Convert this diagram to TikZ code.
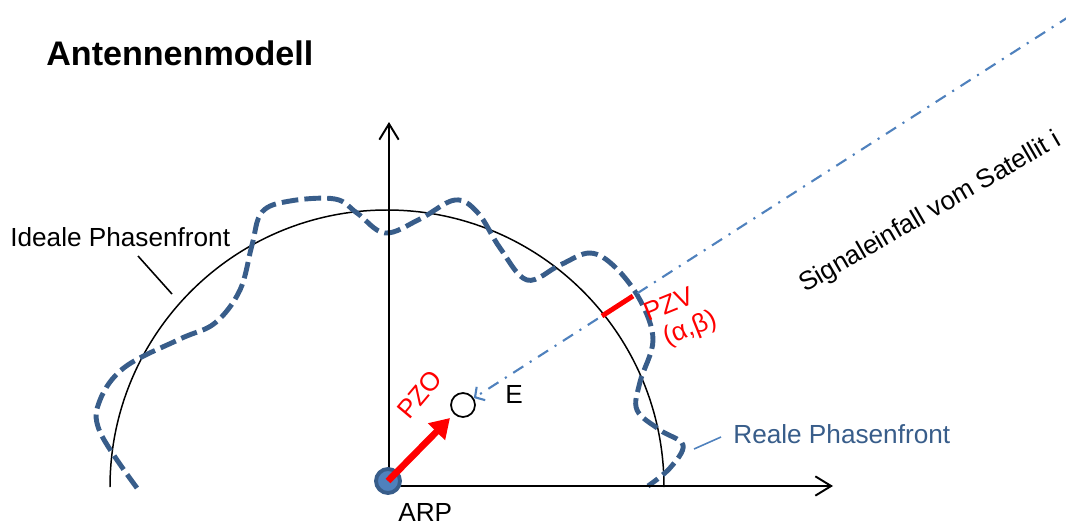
\documentclass[tikz,border=0pt]{standalone}
\usepackage{fontspec}
\setmainfont{Liberation Sans}
\usetikzlibrary{arrows.meta}
\definecolor{frontblue}{RGB}{56,93,138}
\definecolor{sigblue}{RGB}{79,129,189}
\definecolor{pzred}{RGB}{255,0,0}

\begin{document}
\begin{tikzpicture}[
    x=0.02cm, y=-0.02cm,
    axis/.style={line width=1.1pt, -{Straight Barb[length=9pt,width=11pt]}},
    ideal/.style={line width=0.85pt},
    real/.style={line width=2.8pt, frontblue, dash pattern=on 9.5pt off 3.5pt},
    signal/.style={line width=1.2pt, sigblue, dash pattern=on 6.8pt off 4.4pt on 1.2pt off 4.4pt, -{Straight Barb[length=4pt,width=9pt]}},
    pzo/.style={line width=3.8pt, pzred, -{Triangle[length=11pt,width=13pt]}},
    pzv/.style={line width=2.8pt, pzred},
    leader/.style={line width=0.9pt},
    lbl/.style={font=\fontsize{14.9}{17}\selectfont, inner sep=0pt, anchor=base west},
    ttl/.style={font=\fontsize{19.4}{23}\selectfont\bfseries, inner sep=0pt, anchor=base west}
]
\useasboundingbox (0,0) rectangle (1066,524);

% --- Phasenfronten ---
\draw[ideal] (110,487) arc[start angle=180, end angle=360, radius=277];
\draw[real] plot[smooth, tension=0.6] coordinates {
    (137,488) (100,432) (100,400) (125,367) (180,339) (215,323) (240,290)
    (252,245) (262,212) (290,201) (335,199) (357,213) (385,233) (420,219)
    (455,200) (478,213) (500,248) (527,280) (560,265) (590,253) (615,267)
    (640,300) (653,340) (640,382) (637,410) (660,430) (683,445) (670,468)
    (648,486)};

% --- Achsen ---
\coordinate (O) at (389,486);
\coordinate (ytop) at (389,122);
\coordinate (xend) at (833,486);
\draw[axis] (O) -- (ytop);
\draw[axis] (O) -- (xend);

% --- Punkte ---
\node[circle, draw=frontblue, fill=sigblue, line width=2.2pt, minimum size=0.48cm, inner sep=0pt] (ARP) at (388,481) {};
\node[circle, draw, line width=1pt, minimum size=0.48cm, inner sep=0pt] (E) at (463,405) {};

% --- Signaleinfall ---
\coordinate (sat) at (1070,16);
\draw[signal] (sat) -- (E);
\coordinate (pzvA) at (602,316);
\coordinate (pzvB) at (633,296);
\draw[pzv] (pzvA) -- (pzvB);

% --- PZO ---
\coordinate (pzotip) at (450,418);
\draw[pzo] (ARP.center) -- (pzotip);

% --- Beschriftungen ---
\node[ttl] (title) at (46,65) {Antennenmodell};
\node[lbl] (ideallbl) at (10,246) {Ideale Phasenfront};
\coordinate (idealA) at (138,256);
\coordinate (idealB) at (172,294);
\draw[leader] (idealA) -- (idealB);
\node[lbl, text=frontblue] (reallbl) at (733,443) {Reale Phasenfront};
\coordinate (realA) at (694,449);
\coordinate (realB) at (721,437);
\draw[leader, sigblue] (realA) -- (realB);
\node[lbl] (elbl) at (505,403) {E};
\node[lbl] (arplbl) at (398,521) {ARP};
\node[lbl, text=pzred, rotate=50] (pzolbl) at (409,421) {PZO};
\node[lbl, text=pzred, rotate=22] (pzvlbl) at (648,322) {PZV};
\node[lbl, text=pzred, rotate=22] (pzvang) at (667,346) {(α,β)};
\node[lbl, rotate=30] (siglbl) at (805,293) {Signaleinfall vom Satellit i};
\end{tikzpicture}
\end{document}
